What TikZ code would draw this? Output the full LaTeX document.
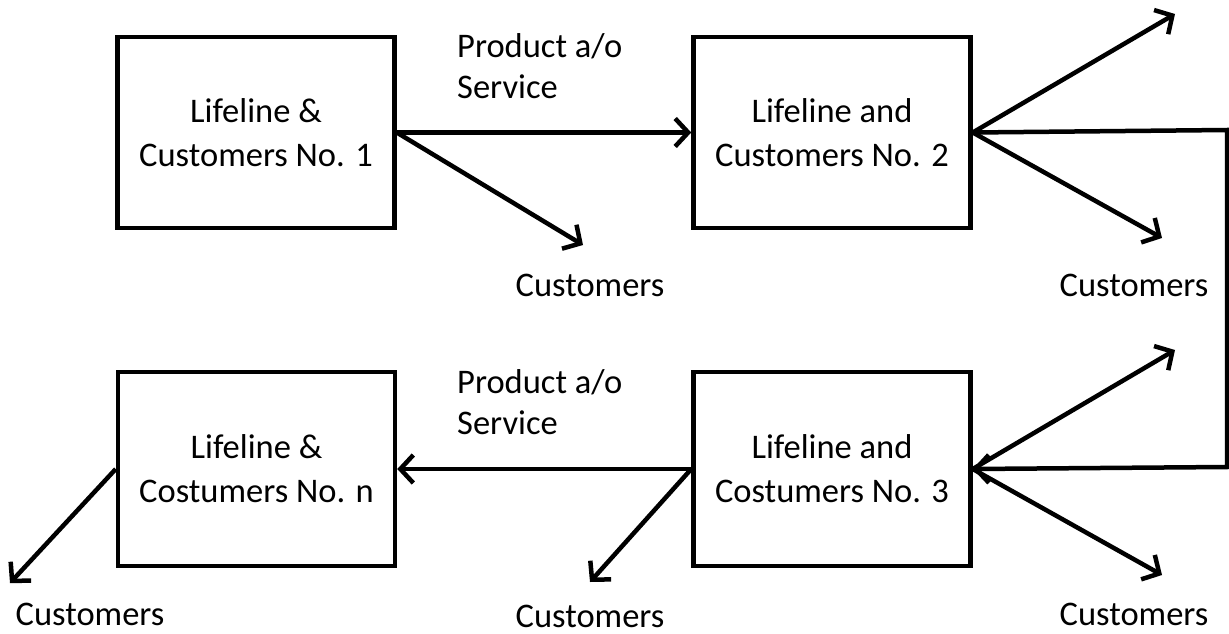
\documentclass[tikz,border=0pt]{standalone}
\usepackage{fontspec}
\setmainfont{Carlito}
\usetikzlibrary{arrows.meta}
\begin{document}
\begin{tikzpicture}[x=1pt,y=-1pt,
  box/.style={draw,line width=4.5pt,minimum width=277pt,minimum height=191pt,inner sep=0pt,align=center,font=\fontsize{34.5}{44}\selectfont},
  lbl/.style={inner sep=0pt,font=\fontsize{34.5}{41}\selectfont},
  conn/.style={line width=4.5pt,-{Straight Barb[length=13pt,width=28pt,line width=4.5pt]}},
  plain/.style={line width=4.5pt}]
\useasboundingbox (0,0) rectangle (1229,634);
\node[box] (b1) at (256,132.5) {Lifeline \&\\Customers No. 1};
\node[box] (b2) at (832,132.5) {Lifeline and\\Customers No. 2};
\node[box,minimum height=194pt] (b3) at (832,469) {Lifeline and\\Costumers No. 3};
\node[box,minimum height=194pt] (bn) at (256.5,469) {Lifeline \&\\Costumers No. n};
\node[lbl,anchor=west,align=left] (p1) at (457,66) {Product a/o\\Service};
\node[lbl,anchor=west,align=left] (p2) at (457,402) {Product a/o\\Service};
\node[lbl] (c1) at (590,285) {Customers};
\node[lbl] (c2) at (1134,285) {Customers};
\node[lbl] (c3) at (1134,614) {Customers};
\node[lbl] (c4) at (590,616) {Customers};
\node[lbl] (c5) at (90,614) {Customers};
\coordinate (e1) at (583,245);
\coordinate (e2) at (1175,14);
\coordinate (e3) at (1162,238);
\coordinate (e4) at (1175,350);
\coordinate (e5) at (1162,575);
\coordinate (e6) at (590,582);
\coordinate (e7) at (10,583);
\coordinate (r1) at (1227,130);
\coordinate (r2) at (1227,467);
\draw[conn] (b1.east) -- (b2.west);
\draw[conn] (b1.east) -- (e1);
\draw[conn] (b2.east) -- (e2);
\draw[conn] (b2.east) -- (e3);
\draw[conn] (b2.east) -- (r1) -- (r2) -- (b3.east);
\draw[conn] (b3.east) -- (e4);
\draw[conn] (b3.east) -- (e5);
\draw[conn] (b3.west) -- (bn.east);
\draw[conn] (b3.west) -- (e6);
\draw[conn] (bn.west) -- (e7);
\end{tikzpicture}
\end{document}
